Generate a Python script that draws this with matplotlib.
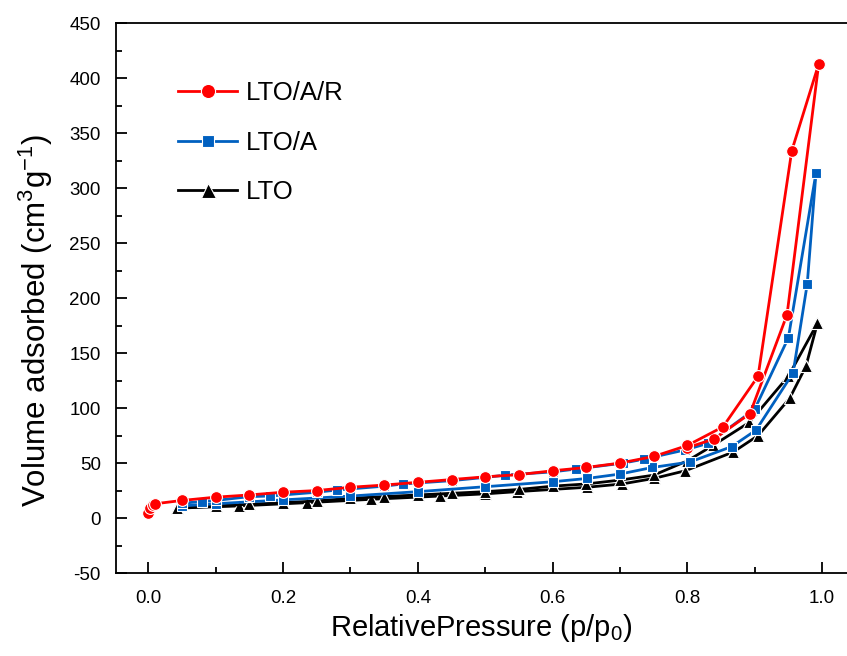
import matplotlib
matplotlib.use("Agg")
import matplotlib.pyplot as plt
from matplotlib.ticker import MultipleLocator

plt.rcParams['font.family'] = ['Liberation Sans', 'DejaVu Sans']
plt.rcParams['mathtext.fontset'] = 'custom'
plt.rcParams['mathtext.rm'] = 'Liberation Sans'
plt.rcParams['mathtext.it'] = 'Liberation Sans'
plt.rcParams['axes.unicode_minus'] = False

# LTO/A/R
ar_ads_x = [0.0, 0.003, 0.007, 0.01, 0.05, 0.1, 0.15, 0.2, 0.25, 0.3, 0.35, 0.4,
            0.45, 0.5, 0.55, 0.6, 0.65, 0.7, 0.75, 0.8, 0.853, 0.905, 0.955, 0.995]
ar_ads_y = [5, 9, 12, 13, 16, 19, 21, 23.5, 25, 28, 30, 32.5,
            35, 37.5, 39.5, 43, 46, 50, 56, 66, 83, 129, 334, 413]
ar_des_x = [0.995, 0.948, 0.893, 0.84, 0.80]
ar_des_y = [413, 185, 95, 72, 64]

# LTO/A
a_up_x = [0.05, 0.08, 0.1, 0.15, 0.18, 0.25, 0.28, 0.35, 0.378, 0.45, 0.5, 0.53,
          0.6, 0.634, 0.705, 0.735, 0.797, 0.831, 0.90, 0.95, 0.991]
a_up_y = [13.5, 15, 16, 19.5, 20, 23.5, 25.5, 29, 31, 34, 37, 39,
          42, 44.5, 50, 53.5, 62, 68, 99, 164, 314]
a_lo_x = [0.05, 0.1, 0.2, 0.3, 0.4, 0.5, 0.6, 0.651, 0.70, 0.748, 0.804,
          0.866, 0.902, 0.957, 0.978, 0.991]
a_lo_y = [11, 13, 16.5, 20, 24, 28.5, 33, 36, 40, 46, 51,
          65, 80, 132, 213, 314]

# LTO
l_up_x = [0.043, 0.1, 0.15, 0.2, 0.25, 0.3, 0.35, 0.4, 0.45, 0.5, 0.55, 0.6,
          0.65, 0.7, 0.75, 0.8, 0.838, 0.892, 0.95, 0.993]
l_up_y = [9, 11, 12.5, 14, 15.5, 18, 19.5, 21, 22.5, 24, 26, 29,
          31, 34.5, 39, 52, 66, 87, 129, 177]
l_lo_x = [0.043, 0.134, 0.236, 0.33, 0.433, 0.5, 0.547, 0.651, 0.703, 0.75,
          0.797, 0.868, 0.905, 0.952, 0.976, 0.993]
l_lo_y = [9, 11, 14, 17, 20, 22, 24, 28, 31, 36,
          43, 60, 75, 109, 138, 177]

red = '#ff0000'
blue = '#0060c0'
black = '#000000'

fig = plt.figure(figsize=(8.47, 6.56), dpi=100)
ax = fig.add_axes([0.137, 0.1265, 0.863, 0.838])

kw = dict(lw=2, markeredgecolor='white', markeredgewidth=0.8)
ax.plot(l_lo_x, l_lo_y, color=black, marker='^', ms=9, **kw)
ax.plot(l_up_x, l_up_y, color=black, marker='^', ms=9, **kw, label='LTO')
ax.plot(a_lo_x, a_lo_y, color=blue, marker='s', ms=7.5, **kw)
ax.plot(a_up_x, a_up_y, color=blue, marker='s', ms=7.5, **kw, label='LTO/A')
ax.plot(ar_des_x, ar_des_y, color=red, marker='o', ms=8.5, **kw)
ax.plot(ar_ads_x, ar_ads_y, color=red, marker='o', ms=8.5, **kw, label='LTO/A/R')

ax.set_xlim(-0.048, 1.037)
ax.set_ylim(-50, 450)
ax.xaxis.set_major_locator(MultipleLocator(0.2))
ax.xaxis.set_minor_locator(MultipleLocator(0.1))
ax.yaxis.set_major_locator(MultipleLocator(50))
ax.yaxis.set_minor_locator(MultipleLocator(25))
ax.tick_params(which='major', direction='in', length=8, width=1.3, labelsize=13.5)
ax.tick_params(which='minor', direction='in', length=4, width=1.3)
ax.tick_params(axis='x', pad=12)
ax.tick_params(axis='y', pad=11)
ax.spines['right'].set_visible(False)
for s in ['left', 'bottom', 'top']:
    ax.spines[s].set_linewidth(1.3)

ax.set_xlabel(r'RelativePressure (p/p$_0$)', fontsize=21, labelpad=4)
ax.set_ylabel(r'Volume adsorbed (cm$^3$g$^{-1}$)', fontsize=22.5)
ax.yaxis.set_label_coords(-0.083, 0.46)

h, l = ax.get_legend_handles_labels()
ax.legend(h[::-1], l[::-1], loc='upper left', bbox_to_anchor=(0.085, 0.895),
          frameon=False, fontsize=18.5, handlelength=2.3, labelspacing=1.0,
          handletextpad=0.35, borderpad=0, borderaxespad=0, markerscale=1.2)

fig.savefig('out.png', dpi=100)
